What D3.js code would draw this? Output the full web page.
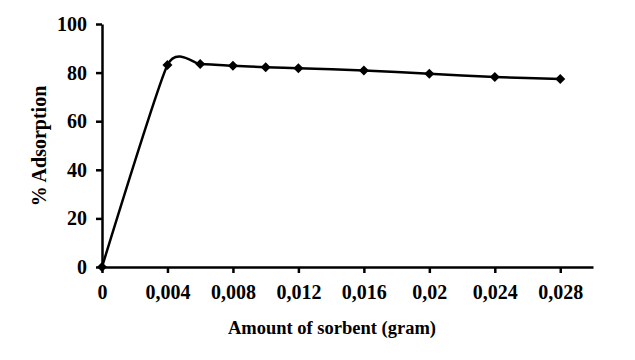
<!DOCTYPE html>
<html>
<head>
<meta charset="utf-8">
<script src="https://cdn.jsdelivr.net/npm/d3@7"></script>
<style>
  body { margin: 0; background: #fff; }
  text { font-family: "Liberation Serif", "Times New Roman", serif; font-weight: bold; }
</style>
</head>
<body>
<div class="canvas"></div>
<script>
var sorbent = [0, 0.004, 0.006, 0.008, 0.010, 0.012, 0.016, 0.020, 0.024, 0.028];
var adsorption = [0, 83.1, 83.5, 82.8, 82.2, 81.8, 80.9, 79.5, 78.2, 77.4];
var xTicks = [0, 0.004, 0.008, 0.012, 0.016, 0.02, 0.024, 0.028];
var xTickLabels = ["0", "0,004", "0,008", "0,012", "0,016", "0,02", "0,024", "0,028"];
var yTicks = [0, 20, 40, 60, 80, 100];

var width = 635, height = 360;
var svg = d3.select(".canvas").append("svg").attr("width", width).attr("height", height);

var scaleX = d3.scaleLinear().domain([0, 0.03]).range([102, 593]);
var scaleY = d3.scaleLinear().domain([0, 100]).range([267, 24]);

var xAxis = d3.axisBottom(scaleX)
  .tickValues(xTicks)
  .tickFormat(function(d, i) { return xTickLabels[i]; })
  .tickSize(6).tickPadding(12).tickSizeOuter(0);

var yAxis = d3.axisLeft(scaleY)
  .tickValues(yTicks)
  .tickSize(6).tickPadding(9).tickSizeOuter(0);

var gx = svg.append("g")
  .attr("class", "x axis")
  .attr("transform", "translate(0," + scaleY(0) + ")")
  .call(xAxis);

var gy = svg.append("g")
  .attr("class", "y axis")
  .attr("transform", "translate(" + scaleX(0) + ",0)")
  .call(yAxis);

[gx, gy].forEach(function(g) {
  g.select(".domain").attr("stroke", "#000").attr("stroke-width", 2.5);
  g.selectAll(".tick line").attr("stroke", "#000").attr("stroke-width", 2.5);
  g.selectAll(".tick text").attr("fill", "#000").style("font-size", "20px")
    .style("font-family", "'Liberation Serif', serif").style("font-weight", "bold");
});

var data = sorbent.map(function(d, i) { return { x: d, y: adsorption[i] }; });

var line = d3.line()
  .x(function(d) { return scaleX(d.x); })
  .y(function(d) { return scaleY(d.y); })
  .curve(d3.curveCardinal.tension(0.45));

svg.append("path")
  .datum(data)
  .attr("d", line)
  .attr("fill", "none")
  .attr("stroke", "#000")
  .attr("stroke-width", 2.5);

svg.append("g")
  .selectAll("path")
  .data(data)
  .enter()
  .append("path")
  .attr("d", d3.symbol().type(d3.symbolSquare).size(50))
  .attr("transform", function(d) { return "translate(" + scaleX(d.x) + "," + scaleY(d.y) + ") rotate(45)"; })
  .attr("fill", "#000");

svg.append("text")
  .attr("x", 332).attr("y", 334)
  .attr("text-anchor", "middle")
  .style("font-size", "18.5px")
  .text("Amount of sorbent (gram)");

svg.append("text")
  .attr("transform", "translate(46,146) rotate(-90)")
  .attr("text-anchor", "middle")
  .style("font-size", "20px")
  .text("% Adsorption");
</script>
</body>
</html>
